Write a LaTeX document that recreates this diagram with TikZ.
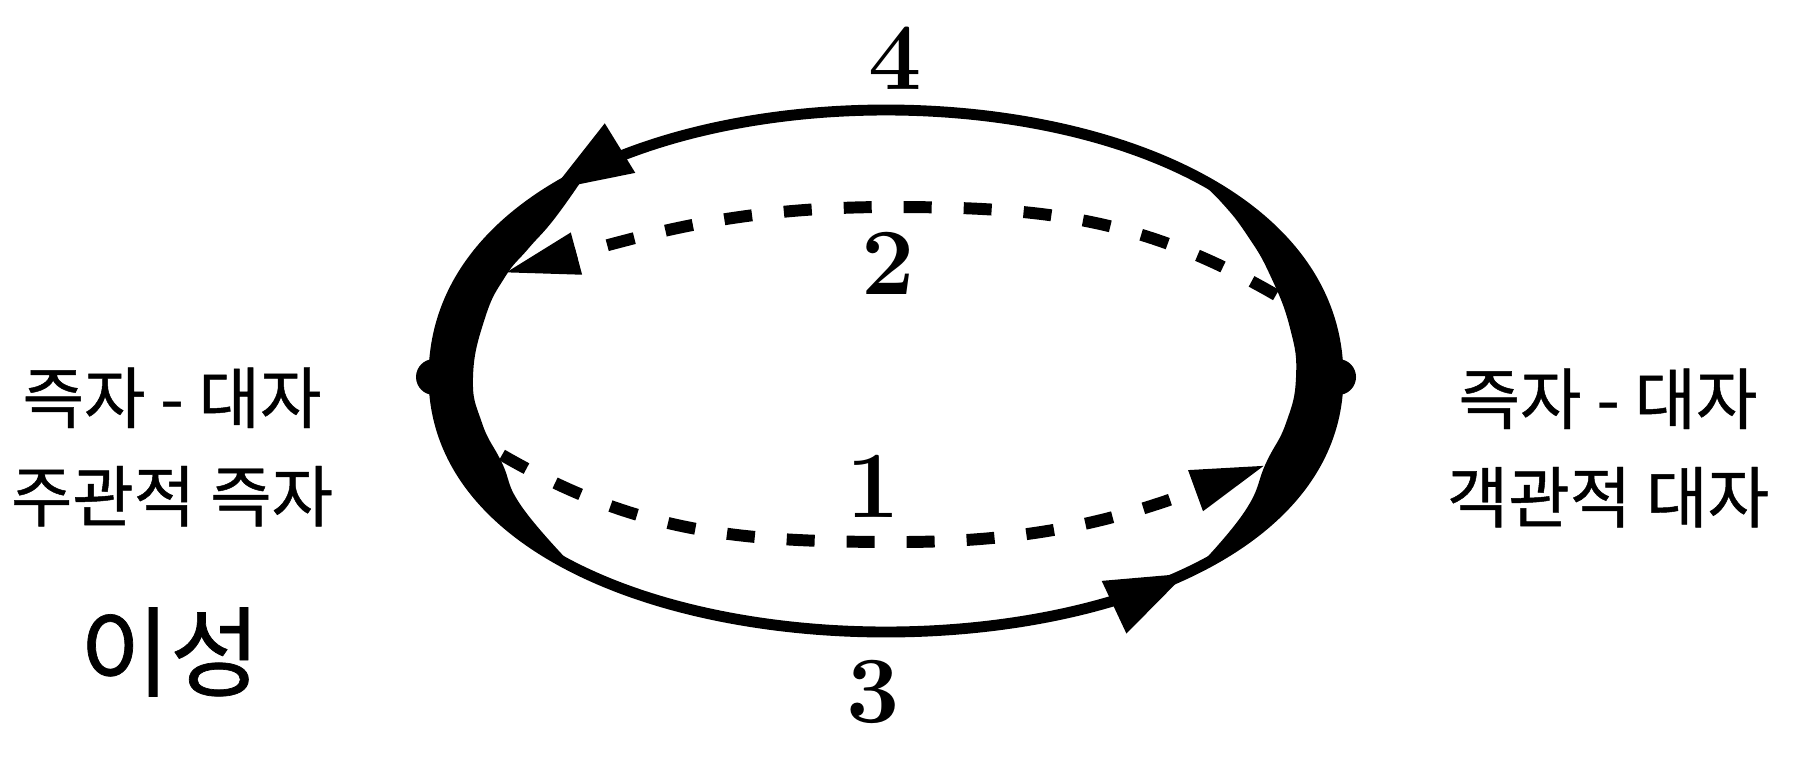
\documentclass[tikz,border=0pt]{standalone}
\usepackage{fontspec}
\newfontfamily\kr[FakeBold=0.7]{Noto Sans CJK KR}
\usetikzlibrary{arrows.meta,decorations.markings}

\begin{document}
\begin{tikzpicture}[
  dot/.style={circle, fill=black, inner sep=0pt, minimum size=3.6mm},
  solidarc/.style={line width=3.1pt, line cap=round},
  midarr/.style={postaction={decorate}, decoration={markings,
                 mark=at position #1 with {\arrow{Triangle[length=8mm,width=5.5mm]}}}},
  dasharc/.style={line width=3.4pt, dash pattern=on 2.8mm off 3.2mm,
                  -{Triangle[length=7.5mm,width=4mm]}},
  num/.style={font=\fontsize{27}{32}\selectfont\bfseries},
  lbl/.style={font=\kr\fontsize{19}{28}\selectfont, align=center}
]
\useasboundingbox (0,0) rectangle (18.14,7.73);
% the two poles
\node[dot] (lft) at (4.34,3.96) {};
\node[dot] (rgt) at (13.38,3.96) {};
% free ends of the dashed paths
\coordinate (s1) at (5.02,3.18);
\coordinate (b1) at (9.00,2.31);
\coordinate (e1) at (12.66,3.08);
\coordinate (s2) at (12.76,4.78);
\coordinate (t2) at (8.90,5.66);
\coordinate (e2) at (5.04,5.00);

% thick parts near the poles
\fill plot[smooth, tension=0.8] coordinates {(5.86,5.99) (5.55,5.55) (5.28,5.24)
        (5.05,4.96) (4.85,4.55) (4.73,3.96) (4.82,3.50) (5.02,3.10) (5.22,2.66) (5.75,2.05)}
  -- plot[smooth, tension=0.8] coordinates {(5.75,2.05) (5.28,2.33) (4.89,2.66)
        (4.59,3.04) (4.41,3.48) (4.34,3.96) (4.41,4.47) (4.59,4.92) (4.89,5.32)
        (5.28,5.67) (5.86,6.01)} -- cycle;
\fill plot[smooth, tension=0.8] coordinates {(11.97,5.94) (12.22,5.70) (12.47,5.38)
        (12.70,4.98) (12.90,4.45) (12.96,3.96) (12.86,3.50) (12.66,3.10) (12.45,2.62)
        (11.97,2.05)}
  -- plot[smooth, tension=0.8] coordinates {(11.97,2.05) (12.44,2.33) (12.83,2.66)
        (13.13,3.04) (13.31,3.48) (13.38,3.96) (13.31,4.47) (13.13,4.92) (12.83,5.32)
        (12.44,5.67) (11.97,5.96)} -- cycle;

% outer paths
\draw[solidarc, midarr=0.8] (rgt.center) .. controls +(0,3.56) and +(0,3.56) .. (lft.center);
\draw[solidarc, midarr=0.77] (lft.center) .. controls +(0,-3.40) and +(0,-3.40) .. (rgt.center);
% inner dashed paths
\draw[dasharc] (s1) to[out=-30,in=180] (b1) to[out=0,in=200] (e1);
\draw[dasharc] (s2) to[out=150,in=0] (t2) to[out=180,in=15] (e2);

% numbers
\node[num] (n4) at (8.95,7.15) {4};
\node[num] (n2) at (8.88,5.10) {2};
\node[num] (n1) at (8.73,2.87) {1};
\node[num] (n3) at (8.73,0.81) {3};

% side texts
\node[lbl] (ltxt) at (1.72,3.26) {즉자 - 대자\\주관적 즉자};
\node[lbl, font=\kr\fontsize{28}{30}\selectfont] (lsub) at (1.70,1.21) {이성};
\node[lbl] (rtxt) at (16.08,3.25) {즉자 - 대자\\객관적 대자};
\end{tikzpicture}
\end{document}
